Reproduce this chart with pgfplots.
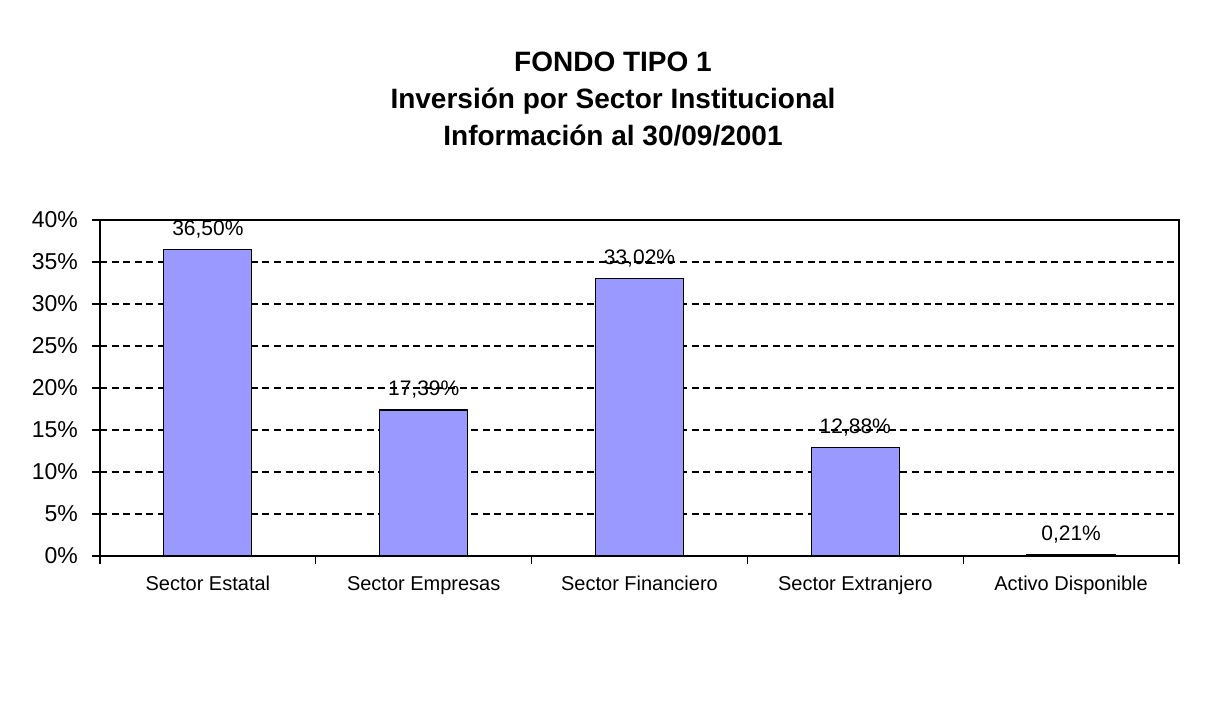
\documentclass[border=0pt]{standalone}
\usepackage{pgfplots}
\pgfplotsset{compat=1.18}
\usepackage{fontspec}
\setmainfont{Liberation Sans}
\definecolor{barblue}{RGB}{153,153,255}

\begin{document}
\begin{tikzpicture}
  % page = 1207x721 px at 0.5pt per px, origin at the plot's lower left corner
  \useasboundingbox[fill=white] (-50pt,-82.5pt) rectangle (553.5pt,278pt);
  \begin{axis}[
    at={(0,0)}, anchor=south west,
    scale only axis,
    width=539.5pt, height=168pt,
    xmin=-0.5, xmax=4.5,
    ymin=0, ymax=40,
    xtick={-0.5,0.5,1.5,2.5,3.5,4.5},
    x tick label as interval,
    xticklabels={Sector Estatal,Sector Empresas,Sector Financiero,Sector Extranjero,Activo Disponible},
    ytick={0,5,10,15,20,25,30,35,40},
    yticklabels={0\%,5\%,10\%,15\%,20\%,25\%,30\%,35\%,40\%},
    tick align=outside,
    major tick length=4pt,
    tick style={black,line width=0.6pt},
    xtick pos=bottom, ytick pos=left,
    axis line style={black,line width=0.6pt},
    ymajorgrids,
    grid style={black,line width=0.6pt,dash pattern=on 3.5pt off 2.3pt},
    yticklabel style={font=\fontsize{11.5}{13}\selectfont,xshift=-3.5pt},
    xticklabel style={font=\fontsize{10}{12}\selectfont,yshift=-2.5pt},
    /pgf/number format/assume math mode=true,
    ybar,
    bar width=44pt,
    nodes near coords,
    point meta=explicit symbolic,
    nodes near coords style={font=\fontsize{10.5}{12}\selectfont,anchor=base,inner sep=0pt,yshift=7pt},
  ]
    \addplot[fill=barblue,draw=black,line width=0.6pt] coordinates {
      (0,36.50)[36,50\%]
      (1,17.39)[17,39\%]
      (2,33.02)[33,02\%]
      (3,12.88)[12,88\%]
      (4,0.21)[0,21\%]
    };
  \end{axis}
  \node[anchor=base,font=\bfseries\fontsize{14}{16}\selectfont] at (256.5pt,242pt) {FONDO TIPO 1};
  \node[anchor=base,font=\bfseries\fontsize{14}{16}\selectfont] at (256.5pt,223.5pt) {Inversión por Sector Institucional};
  \node[anchor=base,font=\bfseries\fontsize{14}{16}\selectfont] at (256.5pt,205pt) {Información al 30/09/2001};
\end{tikzpicture}
\end{document}
